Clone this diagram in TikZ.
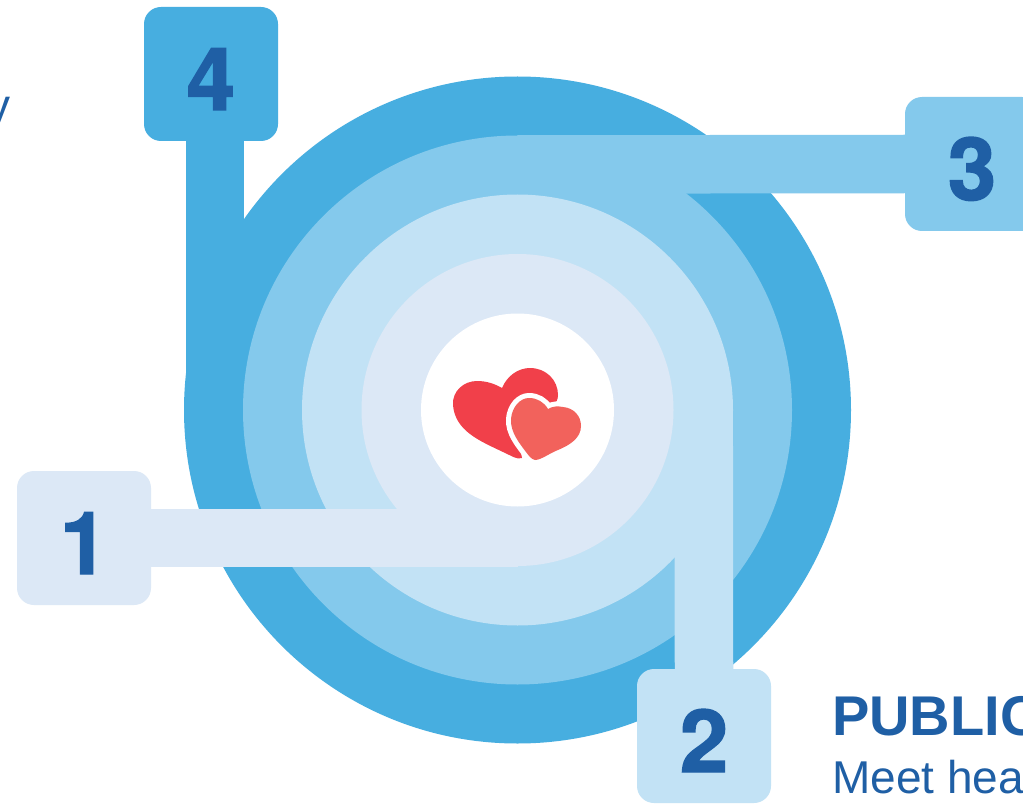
\documentclass[tikz,border=0pt]{standalone}
\usepackage{fontspec}
\setmainfont{Liberation Sans}
\newfontfamily\numfont[FakeBold=1.6]{TeX Gyre Heros Bold}
\definecolor{bandA}{HTML}{47AEE0}
\definecolor{bandB}{HTML}{84C9EC}
\definecolor{bandC}{HTML}{C2E2F5}
\definecolor{bandD}{HTML}{DCE8F6}
\definecolor{ink}{HTML}{1F5FA5}
\definecolor{heartA}{HTML}{F1404A}
\definecolor{heartB}{HTML}{F2625C}
\tikzset{
  disc/.style={circle,inner sep=0pt,minimum size=#1},
  numbox/.style={rectangle,rounded corners=17pt,inner sep=0pt,minimum size=134pt,text=ink,
    font=\fontsize{87}{87}\numfont,text height=72pt,text depth=0pt},
  band/.style={line width=58.5pt},
  bodytext/.style={inner sep=0pt,text=ink,font=\fontsize{46}{46}\selectfont},
  headtext/.style={inner sep=0pt,text=ink,font=\fontsize{56}{56}\selectfont\bfseries}
}
\begin{document}
\begin{tikzpicture}[x=1pt,y=-1pt]
\useasboundingbox (0,0) rectangle (1023,805);
\clip (0,0) rectangle (1023,805);
\fill[white] (0,0) rectangle (1023,805);
% anchors
\coordinate (c) at (517.5,410);
\coordinate (end4) at (215,410);
\coordinate (end3) at (517.5,164.5);
\coordinate (end2) at (703.7,410);
\coordinate (end1) at (517.5,538);
% outer ring and band 4
\node[disc=667pt,fill=bandA] (ringA) at (c) {};
\node[numbox,fill=bandA] (box4) at (211,74) {4};
\draw[band,bandA] ([xshift=4pt]box4.south) -- (end4);
% band 3
\node[disc=549pt,fill=bandB] (ringB) at (c) {};
\node[numbox,fill=bandB] (box3) at (972,164) {3};
\draw[band,bandB] (box3.west) -- (end3);
% band 2
\node[disc=431pt,fill=bandC] (ringC) at (c) {};
\node[numbox,fill=bandC] (box2) at (704,736) {2};
\draw[band,bandC] (box2.north) -- (end2);
% band 1
\node[disc=312pt,fill=bandD] (ringD) at (c) {};
\node[numbox,fill=bandD] (box1) at (84,538) {1};
\draw[band,bandD] (box1.east) -- (end1);
% centre
\node[disc=193pt,fill=white] (hub) at (c) {};
% hearts
\fill[heartA] (522,458) .. controls (517,460) and (512,456) .. (503,452)
  .. controls (480,441) and (455,431) .. (453,405)
  .. controls (452,391) and (464,381) .. (477,381)
  .. controls (487,381) and (495,384) .. (502,388)
  .. controls (507,376) and (518,368) .. (530,368)
  .. controls (546,368) and (558,380) .. (558,395)
  .. controls (558,400) and (556,404) .. (552,404)
  -- (535,400) -- (515,420) -- cycle;
\draw[white,line width=10pt,line join=round,fill=white]
  (535,460) .. controls (531,459) and (529,456) .. (526,452)
  .. controls (520,444) and (510,432) .. (511,419)
  .. controls (512,407) and (520,398) .. (529,398)
  .. controls (537,398) and (544,402) .. (548,409)
  .. controls (553,406) and (558,406) .. (563,407)
  .. controls (574,408) and (581,416) .. (581,426)
  .. controls (581,438) and (570,445) .. (558,450)
  .. controls (550,453) and (541,460) .. (535,460) -- cycle;
\fill[heartB]
  (535,460) .. controls (531,459) and (529,456) .. (526,452)
  .. controls (520,444) and (510,432) .. (511,419)
  .. controls (512,407) and (520,398) .. (529,398)
  .. controls (537,398) and (544,402) .. (548,409)
  .. controls (553,406) and (558,406) .. (563,407)
  .. controls (574,408) and (581,416) .. (581,426)
  .. controls (581,438) and (570,445) .. (558,450)
  .. controls (550,453) and (541,460) .. (535,460) -- cycle;
% texts
\node[headtext,anchor=base west] (head) at (832,735) {PUBLIC};
\node[bodytext,anchor=base west] (body) at (832,793) {Meet hea};
\node[bodytext,anchor=base east] (frag) at (11,122) {y};
\end{tikzpicture}
\end{document}
